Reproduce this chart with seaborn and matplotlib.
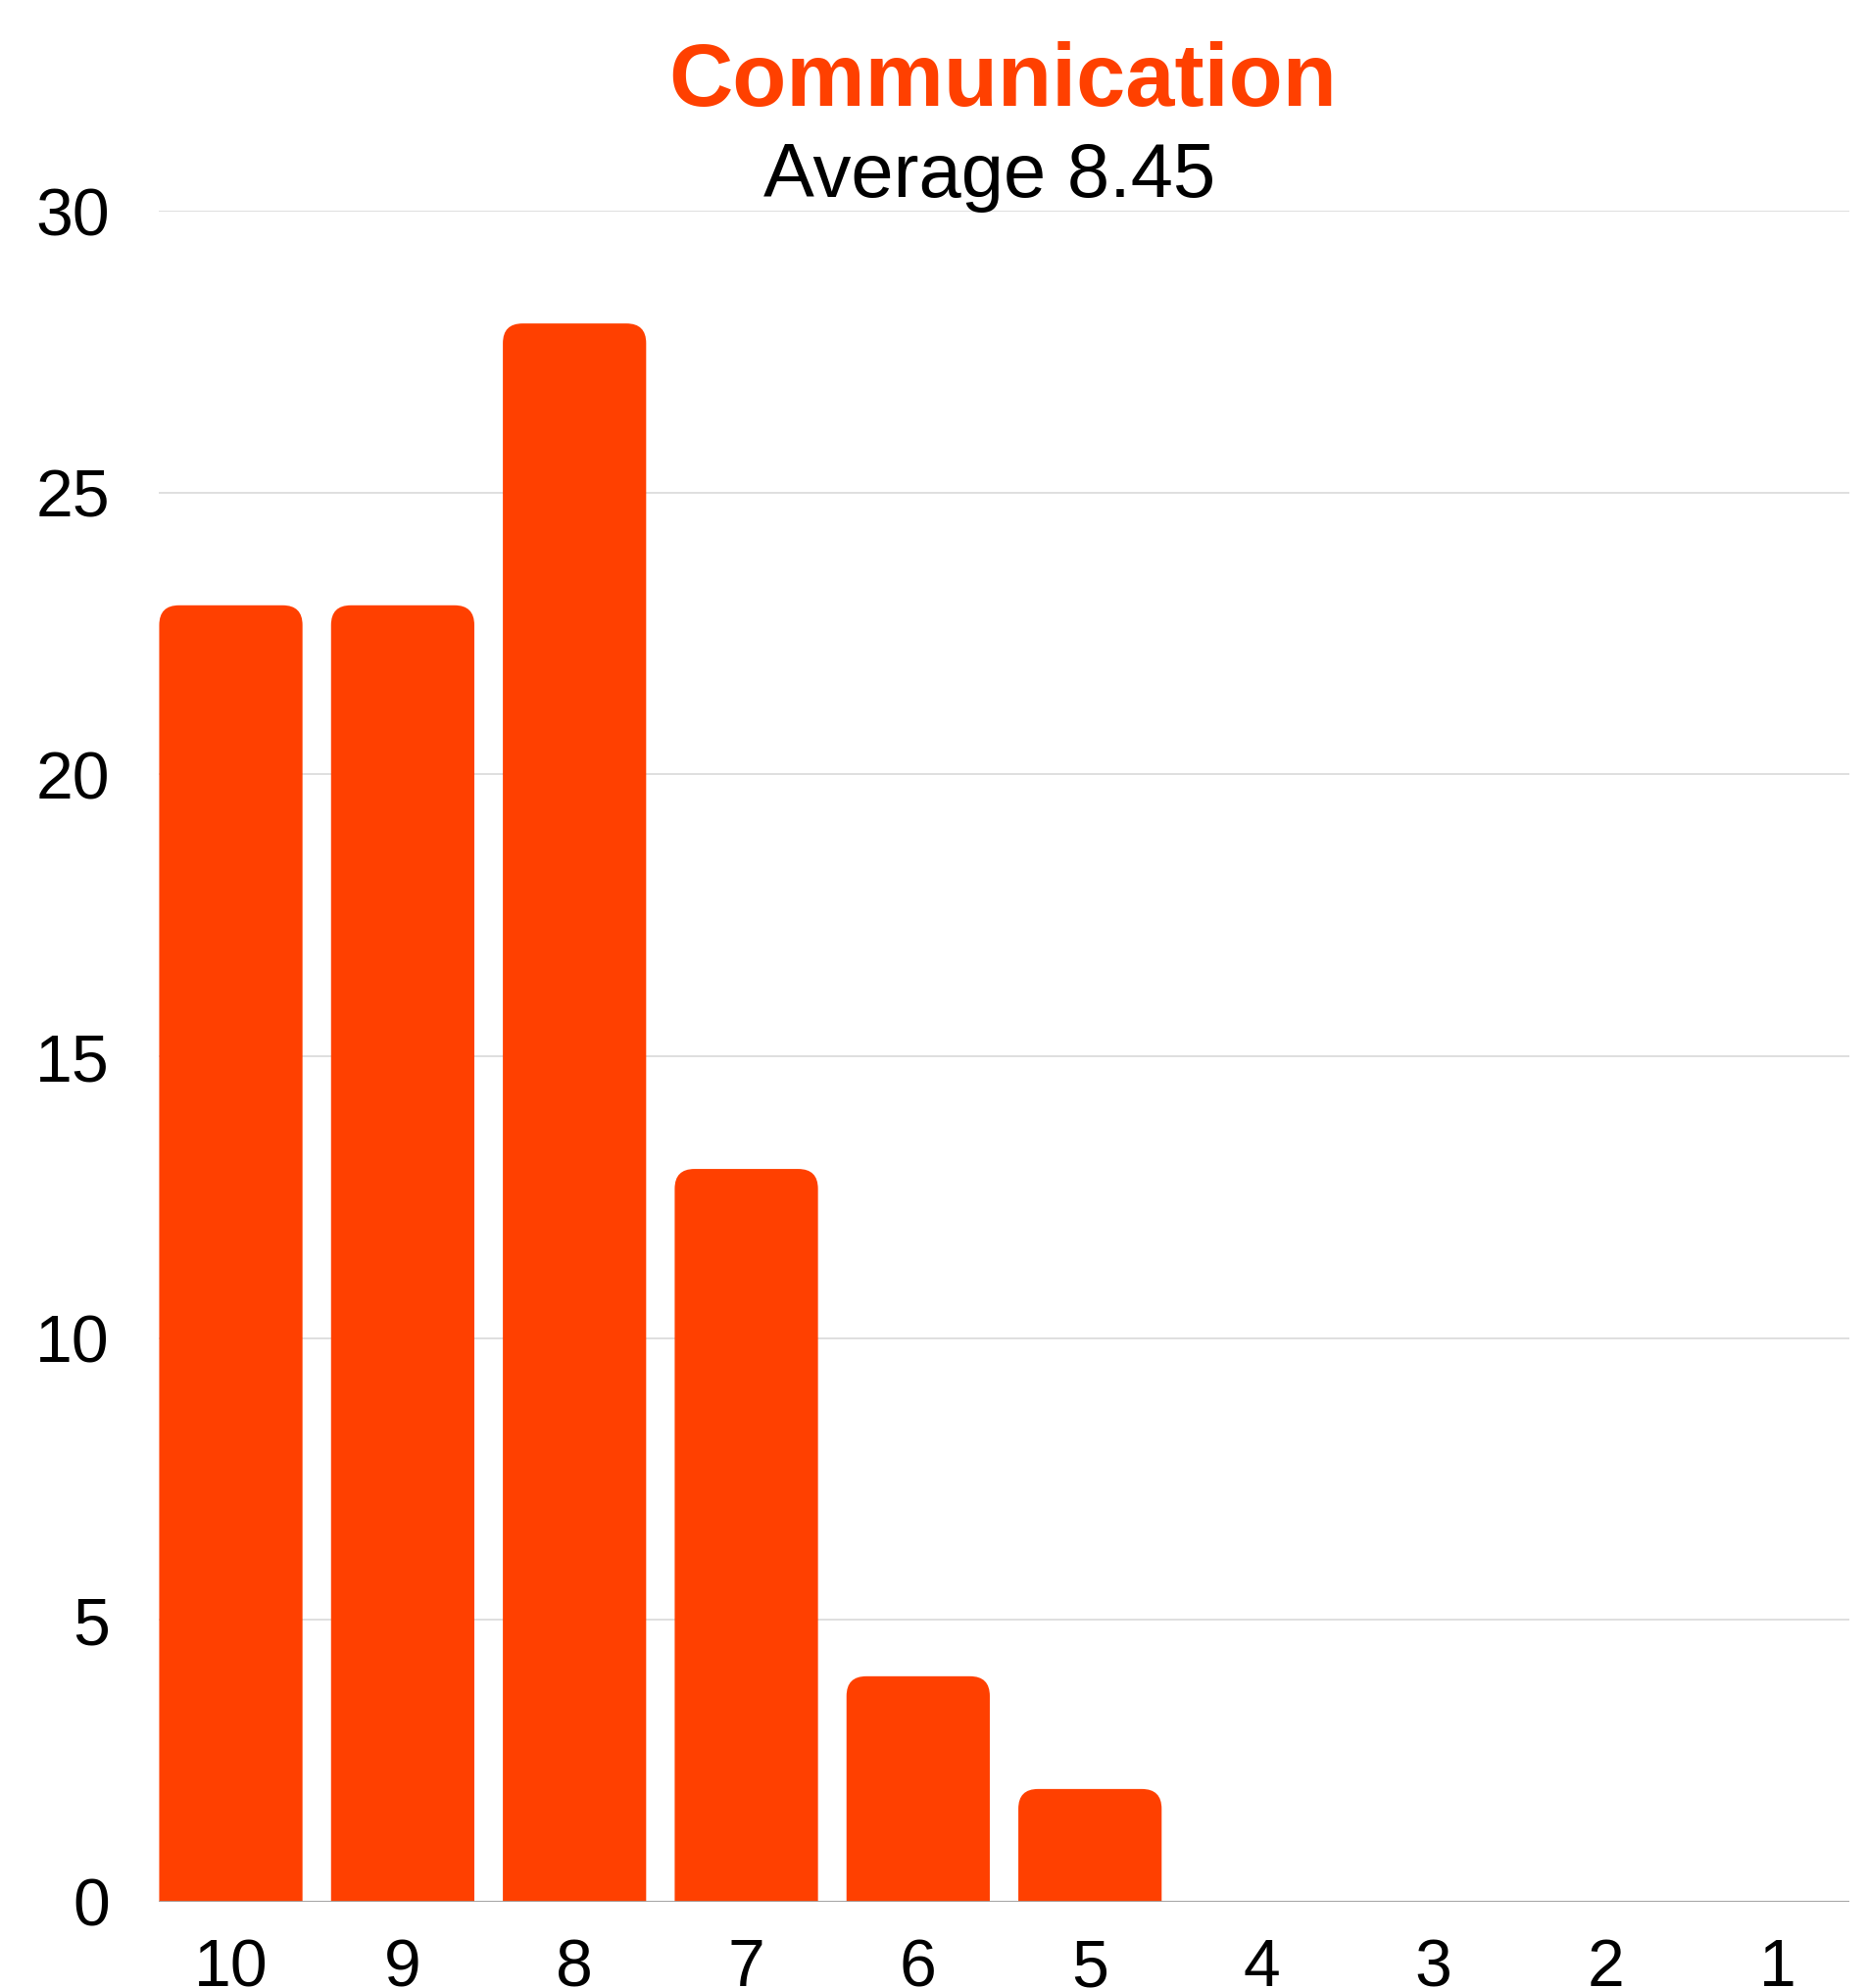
import matplotlib
matplotlib.use('Agg')
import matplotlib.pyplot as plt
from matplotlib.patches import FancyBboxPatch
import pandas as pd
import seaborn as sns

scores = ['10', '9', '8', '7', '6', '5', '4', '3', '2', '1']
counts = [23, 23, 28, 13, 4, 2, 0, 0, 0, 0]
yticks = [0, 5, 10, 15, 20, 25, 30]
title = 'Communication'
subtitle = 'Average 8.45'
orange = '#FF4000'

sns.set_style('white')
plt.rcParams['font.family'] = ['Liberation Sans', 'DejaVu Sans']

df = pd.DataFrame({'score': scores, 'count': counts})

fig = plt.figure(figsize=(19.05, 20.29), dpi=100)
ax = fig.add_axes([0.085, 0.0434, 0.9056, 0.8506])

sns.barplot(data=df, x='score', y='count', order=scores, color=orange,
            saturation=1, width=0.834, ax=ax, zorder=3)

# swap the plain rectangles for ones with rounded tops
# (bottom corners hang below the axes and get clipped)
rx, ry = 0.115, 0.35
for p in list(ax.patches):
    x, w, h = p.get_x(), p.get_width(), p.get_height()
    p.set_visible(False)
    if h <= 0:
        continue
    rb = FancyBboxPatch((x + rx, -1.0 + ry), w - 2 * rx, h + 1.0 - 2 * ry,
                        boxstyle='round,pad=%f,rounding_size=%f' % (rx, rx),
                        mutation_aspect=ry / rx,
                        facecolor=orange, edgecolor='none', zorder=3)
    ax.add_patch(rb)

ax.set_xlim(-0.42, 9.42)
ax.set_ylim(0, 30)
ax.set_yticks(yticks)
ax.yaxis.grid(True, color='#d9d9d9', linewidth=1.2, zorder=0)
ax.set_axisbelow(True)
ax.axhline(0, color='#9e9e9e', linewidth=2, zorder=4)
for s in ax.spines.values():
    s.set_visible(False)
ax.tick_params(axis='y', labelsize=49, length=0, pad=36, colors='black')
ax.tick_params(axis='x', labelsize=49, length=0, pad=26, colors='black')
ax.set_xlabel('')
ax.set_ylabel('')

fig.text(0.537, 0.947, title, ha='center', va='baseline', fontsize=65,
         fontweight='bold', color=orange)
fig.text(0.53, 0.901, subtitle, ha='center', va='baseline', fontsize=56,
         color='black')

fig.savefig('out.png', dpi=100)
